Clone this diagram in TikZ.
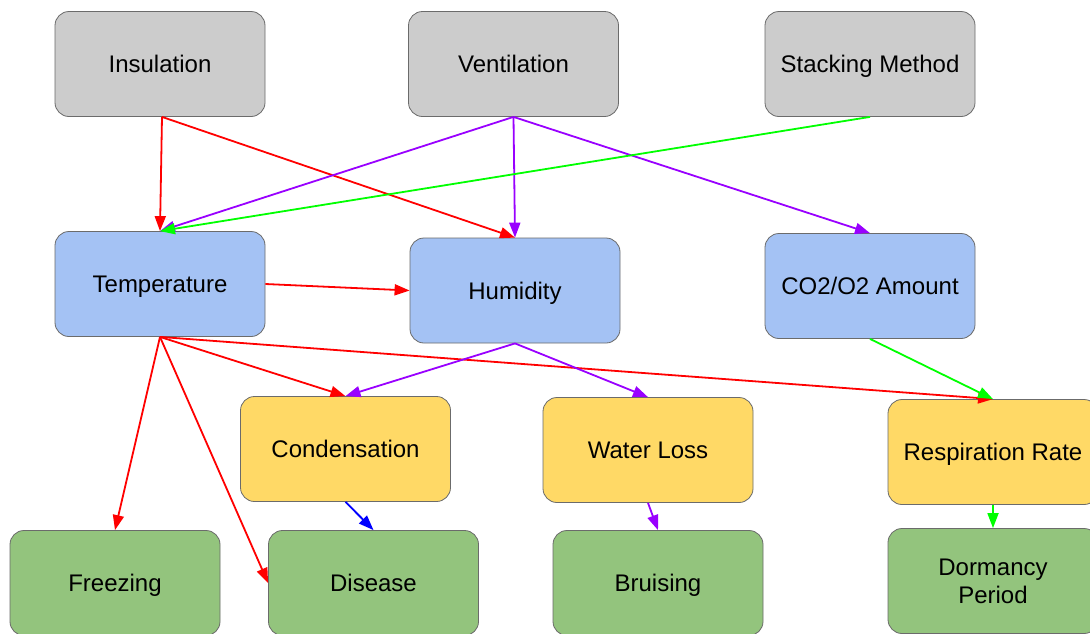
\documentclass[tikz,border=0pt]{standalone}
\usepackage{fontspec}
\setmainfont{Liberation Sans}
\usetikzlibrary{arrows.meta}
\definecolor{boxgray}{HTML}{CCCCCC}
\definecolor{boxblue}{HTML}{A4C2F4}
\definecolor{boxyellow}{HTML}{FFD966}
\definecolor{boxgreen}{HTML}{93C47D}
\definecolor{edgegray}{HTML}{6B6B6B}
\definecolor{cred}{HTML}{FF0000}
\definecolor{cpurple}{HTML}{9900FF}
\definecolor{cgreen}{HTML}{00FF00}
\definecolor{cblue}{HTML}{0000FF}
\tikzset{
  box/.style={draw=edgegray, line width=0.8pt, rounded corners=14pt,
    minimum width=210pt, minimum height=105pt, inner sep=0pt, align=center,
    text height=17pt, text depth=0pt,
    font=\fontsize{24}{28}\selectfont},
  gbox/.style={box, fill=boxgray},
  bbox/.style={box, fill=boxblue},
  ybox/.style={box, fill=boxyellow},
  grbox/.style={box, fill=boxgreen},
  conn/.style={line width=1.8pt, -{Triangle[length=15pt,width=11pt]}},
  rd/.style={conn, cred},
  pu/.style={conn, cpurple},
  gr/.style={conn, cgreen},
  bl/.style={conn, cblue},
}
\begin{document}
\begin{tikzpicture}[x=1pt,y=-1pt]
\useasboundingbox (0,0) rectangle (1090,633);
\clip (0,0) rectangle (1090,633);
\fill[white] (0,0) rectangle (1090,633);
% row 1
\node[gbox] (ins) at (160,64) {Insulation};
\node[gbox] (ven) at (513.5,64) {Ventilation};
\node[gbox] (stk) at (870,64) {Stacking Method};
% row 2
\node[bbox] (tmp) at (160,284) {Temperature};
\node[bbox] (hum) at (515,290.5) {Humidity};
\node[bbox] (co2) at (870,286) {CO2/O2 Amount};
% row 3
\node[ybox] (cond) at (345.5,449) {Condensation};
\node[ybox] (wl) at (648,450) {Water Loss};
\node[ybox] (resp) at (993,452) {Respiration Rate};
% row 4
\node[grbox] (frz) at (115,583) {Freezing};
\node[grbox] (dis) at (373.5,583) {Disease};
\node[grbox] (bru) at (658,583) {Bruising};
\node[grbox, text height=45pt, text depth=0pt] (dor) at (993,581) {Dormancy\\Period};
% connectors
\draw[rd] ([xshift=2pt]ins.south) -- (tmp.north);
\draw[rd] ([xshift=2pt]ins.south) -- (hum.north);
\draw[rd] (tmp.east) -- (hum.west);
\draw[rd] (tmp.south) -- (cond.north);
\draw[rd] (tmp.south) -- (frz.north);
\draw[rd] (tmp.south) -- (dis.west);
\draw[rd] (tmp.south) -- (resp.north);
\draw[pu] (ven.south) -- (tmp.north);
\draw[pu] (ven.south) -- (hum.north);
\draw[pu] (ven.south) -- (co2.north);
\draw[pu] (hum.south) -- (cond.north);
\draw[pu] (hum.south) -- (wl.north);
\draw[pu] (wl.south) -- (bru.north);
\draw[gr] (stk.south) -- (tmp.north);
\draw[gr] (co2.south) -- (resp.north);
\draw[gr] (resp.south) -- (dor.north);
\draw[bl] (cond.south) -- (dis.north);
\end{tikzpicture}
\end{document}
